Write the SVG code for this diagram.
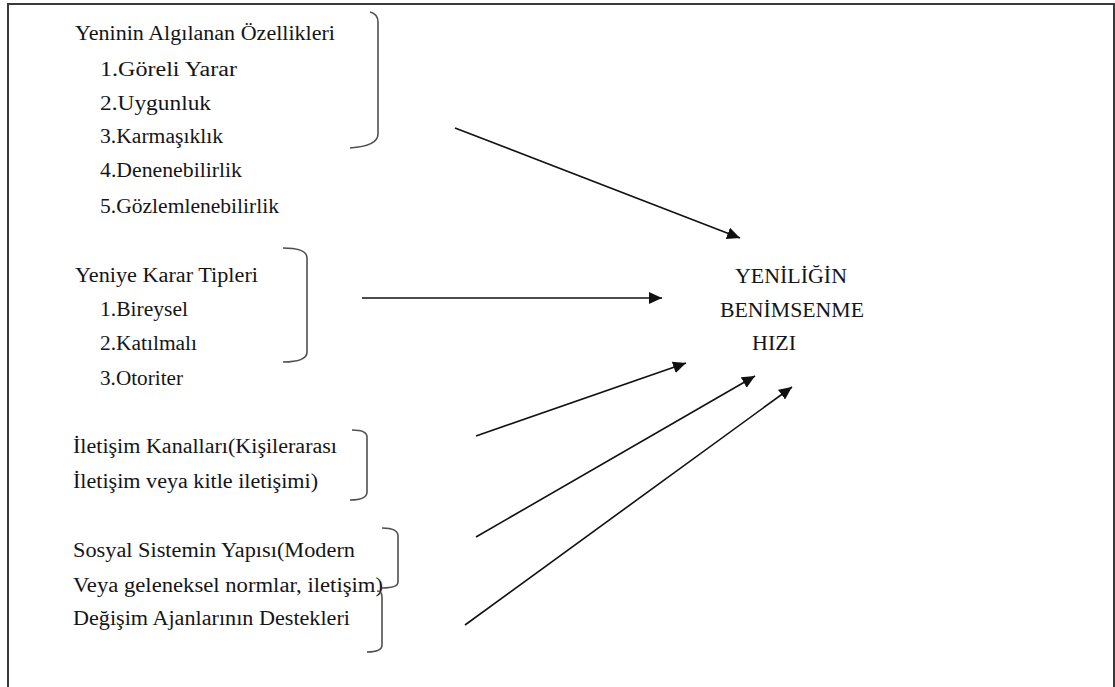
<svg xmlns="http://www.w3.org/2000/svg" width="1115" height="687" viewBox="0 0 1115 687">
<style>
  .lbl { font-family: "Liberation Serif", "Times New Roman", serif; font-size: 20px; fill: #151515; }
  .brace { fill: none; stroke: #505050; stroke-width: 1.6; }
  .arrow { fill: none; stroke: #111; stroke-width: 1.6; marker-end: url(#ah); }
  .frame { fill: none; stroke: #3a3a3a; stroke-width: 2; }
</style>
<defs>
  <marker id="ah" markerUnits="userSpaceOnUse" markerWidth="14" markerHeight="12" refX="13" refY="6" orient="auto">
    <path d="M0,0 L13,6 L0,12 z" fill="#111"/>
  </marker>
</defs>
<rect width="1115" height="687" fill="#fff"/>
<path class="frame" d="M8,690 V4 H1114 V690"/>

<g id="node-yenilik-ozellikleri" class="lbl">
  <text x="75" y="40" textLength="260" lengthAdjust="spacingAndGlyphs">Yeninin Algılanan Özellikleri</text>
  <text x="100" y="76" textLength="137" lengthAdjust="spacingAndGlyphs">1.Göreli Yarar</text>
  <text x="100" y="110" textLength="111" lengthAdjust="spacingAndGlyphs">2.Uygunluk</text>
  <text x="100" y="143" textLength="123" lengthAdjust="spacingAndGlyphs">3.Karmaşıklık</text>
  <text x="100" y="177" textLength="142" lengthAdjust="spacingAndGlyphs">4.Denenebilirlik</text>
  <text x="100" y="213" textLength="179" lengthAdjust="spacingAndGlyphs">5.Gözlemlenebilirlik</text>
  <path class="brace" d="M370,12 Q378,14 378,22 V134 Q378,146 350,148"/>
</g>

<g id="node-karar-tipleri" class="lbl">
  <text x="75" y="282" textLength="183" lengthAdjust="spacingAndGlyphs">Yeniye Karar Tipleri</text>
  <text x="100" y="316" textLength="88" lengthAdjust="spacingAndGlyphs">1.Bireysel</text>
  <text x="100" y="350" textLength="97" lengthAdjust="spacingAndGlyphs">2.Katılmalı</text>
  <text x="100" y="385" textLength="83" lengthAdjust="spacingAndGlyphs">3.Otoriter</text>
  <path class="brace" d="M283,248 Q307,248 307,258 V352 Q307,362 283,362"/>
</g>

<g id="node-iletisim-kanallari" class="lbl">
  <text x="73" y="453" textLength="264" lengthAdjust="spacingAndGlyphs">İletişim Kanalları(Kişilerarası</text>
  <text x="73" y="488" textLength="245" lengthAdjust="spacingAndGlyphs">İletişim veya kitle iletişimi)</text>
  <path class="brace" d="M352,430 Q367,430 367,437 V492 Q367,500 350,500"/>
</g>

<g id="node-sosyal-sistem" class="lbl">
  <text x="73" y="557" textLength="282" lengthAdjust="spacingAndGlyphs">Sosyal Sistemin Yapısı(Modern</text>
  <text x="73" y="592" textLength="310" lengthAdjust="spacingAndGlyphs">Veya geleneksel normlar, iletişim)</text>
  <path class="brace" d="M382,528 Q398,528 398,536 V582 Q398,588 382,588"/>
</g>

<g id="node-degisim-ajanlari" class="lbl">
  <text x="73" y="625" textLength="277" lengthAdjust="spacingAndGlyphs">Değişim Ajanlarının Destekleri</text>
  <path class="brace" d="M377,591 Q382,591 382,597 V645 Q382,652 367,652"/>
</g>

<g id="node-benimsenme-hizi" class="lbl">
  <text x="735" y="283" textLength="112" lengthAdjust="spacingAndGlyphs">YENİLİĞİN</text>
  <text x="720" y="317" textLength="144" lengthAdjust="spacingAndGlyphs">BENİMSENME</text>
  <text x="752" y="350" textLength="44" lengthAdjust="spacingAndGlyphs">HIZI</text>
</g>

<g id="connectors">
  <line class="arrow" x1="455" y1="128" x2="740" y2="238"/>
  <line class="arrow" x1="362" y1="298" x2="662" y2="298"/>
  <line class="arrow" x1="476" y1="436" x2="686" y2="363"/>
  <line class="arrow" x1="476" y1="537" x2="755" y2="376"/>
  <line class="arrow" x1="465" y1="625" x2="792" y2="387"/>
</g>
</svg>
